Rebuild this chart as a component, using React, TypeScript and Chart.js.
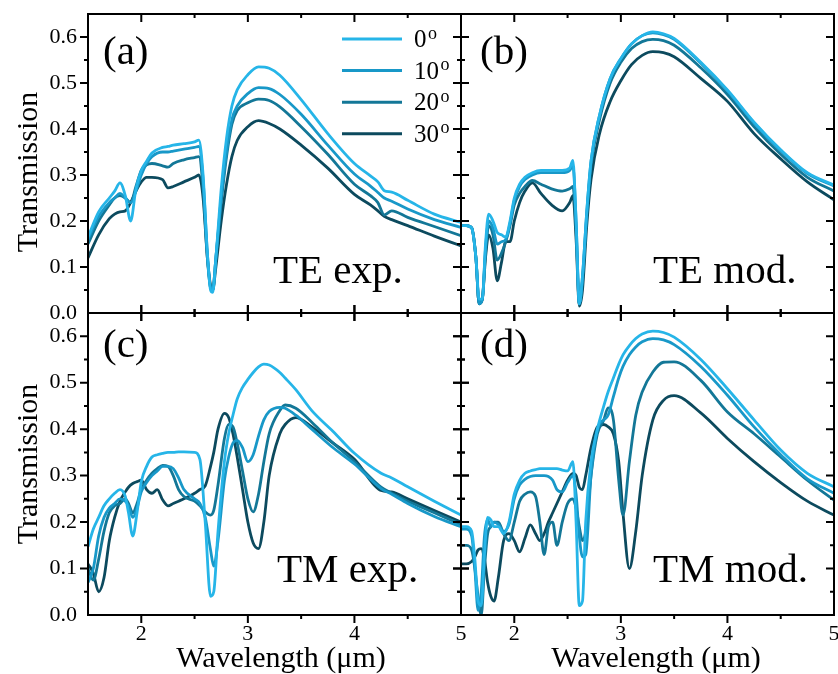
import React, { useEffect, useRef } from 'react';
import { Chart, registerables } from 'chart.js';

Chart.register(...registerables);

const SERIF = '"Liberation Serif", "Times New Roman", Times, serif';
const PAGE_W = 838;
const PAGE_H = 674;

const angles = ['0', '10', '20', '30'];
const lineColors = ['#26b5e8', '#1898c8', '#137797', '#0c4a5e'];

const xLabelTicks = [2, 3, 4, 5];
const xMajorTicks = [2, 3, 4];
const xMinorTicks = [2.5, 3.5, 4.5];
const yLabelTicks = [0, 0.1, 0.2, 0.3, 0.4, 0.5, 0.6];
const yMajorTicks = [0.1, 0.2, 0.3, 0.4, 0.5, 0.6];
const yMinorTicks = [0.05, 0.15, 0.25, 0.35, 0.45, 0.55];

// (a) TE experiment
const wlA = [1.5, 1.6, 1.7, 1.75, 1.8, 1.85, 1.9, 1.95, 2.0, 2.05, 2.1, 2.2, 2.25, 2.3, 2.4, 2.5, 2.54, 2.58, 2.62, 2.65, 2.67, 2.7, 2.75, 2.8, 2.85, 2.9, 3.0, 3.1, 3.2, 3.3, 3.5, 3.75, 4.0, 4.15, 4.22, 4.28, 4.35, 4.5, 4.75, 5.0];
const teExp0 = [0.165, 0.22, 0.25, 0.265, 0.283, 0.255, 0.2, 0.27, 0.31, 0.33, 0.348, 0.36, 0.362, 0.365, 0.368, 0.372, 0.376, 0.3, 0.13, 0.05, 0.045, 0.12, 0.27, 0.38, 0.45, 0.485, 0.518, 0.535, 0.532, 0.517, 0.464, 0.39, 0.325, 0.298, 0.285, 0.266, 0.263, 0.245, 0.215, 0.197];
const teExp10 = [0.16, 0.21, 0.24, 0.25, 0.26, 0.25, 0.24, 0.265, 0.3, 0.325, 0.34, 0.35, 0.35, 0.352, 0.356, 0.36, 0.362, 0.29, 0.13, 0.055, 0.05, 0.12, 0.25, 0.35, 0.42, 0.45, 0.477, 0.49, 0.488, 0.475, 0.432, 0.365, 0.302, 0.276, 0.262, 0.25, 0.243, 0.226, 0.203, 0.186];
const teExp20 = [0.15, 0.2, 0.235, 0.25, 0.255, 0.25, 0.24, 0.275, 0.31, 0.322, 0.325, 0.32, 0.317, 0.325, 0.333, 0.338, 0.34, 0.27, 0.12, 0.055, 0.05, 0.12, 0.24, 0.34, 0.41, 0.44, 0.457, 0.465, 0.462, 0.448, 0.405, 0.345, 0.28, 0.255, 0.24, 0.213, 0.222, 0.208, 0.188, 0.168];
const teExp30 = [0.12, 0.17, 0.205, 0.215, 0.22, 0.222, 0.24, 0.265, 0.285, 0.295, 0.295, 0.29, 0.272, 0.275, 0.285, 0.295, 0.3, 0.25, 0.12, 0.06, 0.05, 0.1, 0.2, 0.28, 0.34, 0.375, 0.405, 0.418, 0.412, 0.4, 0.365, 0.315, 0.258, 0.235, 0.222, 0.21, 0.203, 0.19, 0.167, 0.146];

// (b) TE model
const wlB = [1.5, 1.55, 1.6, 1.64, 1.67, 1.7, 1.73, 1.76, 1.8, 1.84, 1.88, 1.92, 1.96, 2.0, 2.05, 2.1, 2.17, 2.25, 2.35, 2.45, 2.52, 2.55, 2.58, 2.61, 2.64, 2.68, 2.72, 2.8, 2.9, 3.0, 3.1, 3.2, 3.3, 3.4, 3.5, 3.75, 4.0, 4.25, 4.5, 4.75, 5.0];
const teMod0 = [0.19, 0.19, 0.185, 0.12, 0.03, 0.03, 0.15, 0.215, 0.2, 0.175, 0.17, 0.165, 0.2, 0.25, 0.28, 0.295, 0.305, 0.31, 0.31, 0.31, 0.315, 0.332, 0.2, 0.02, 0.08, 0.22, 0.33, 0.43, 0.51, 0.553, 0.585, 0.603, 0.611, 0.607, 0.597, 0.545, 0.485, 0.415, 0.355, 0.305, 0.278];
const teMod10 = [0.19, 0.19, 0.185, 0.12, 0.02, 0.03, 0.14, 0.2, 0.185, 0.15, 0.155, 0.16, 0.195, 0.245, 0.275, 0.29, 0.3, 0.305, 0.305, 0.305, 0.31, 0.32, 0.2, 0.02, 0.08, 0.22, 0.33, 0.43, 0.51, 0.553, 0.585, 0.603, 0.609, 0.605, 0.595, 0.543, 0.483, 0.413, 0.353, 0.303, 0.276];
const teMod20 = [0.19, 0.19, 0.185, 0.12, 0.02, 0.03, 0.13, 0.19, 0.17, 0.115, 0.13, 0.155, 0.19, 0.235, 0.26, 0.275, 0.288, 0.28, 0.27, 0.265, 0.27, 0.275, 0.18, 0.02, 0.07, 0.21, 0.32, 0.42, 0.5, 0.545, 0.575, 0.59, 0.595, 0.592, 0.582, 0.533, 0.475, 0.405, 0.345, 0.295, 0.265];
const teMod30 = [0.19, 0.19, 0.185, 0.12, 0.02, 0.03, 0.12, 0.17, 0.14, 0.07, 0.11, 0.155, 0.155, 0.2, 0.24, 0.265, 0.283, 0.26, 0.235, 0.222, 0.24, 0.255, 0.16, 0.015, 0.05, 0.19, 0.29, 0.39, 0.46, 0.505, 0.54, 0.56, 0.568, 0.566, 0.557, 0.51, 0.46, 0.39, 0.335, 0.285, 0.246];

// (c) TM experiment
const wlC = [1.5, 1.55, 1.6, 1.65, 1.7, 1.75, 1.8, 1.85, 1.88, 1.92, 1.96, 2.0, 2.05, 2.1, 2.15, 2.2, 2.25, 2.3, 2.35, 2.4, 2.5, 2.55, 2.6, 2.65, 2.68, 2.72, 2.78, 2.82, 2.86, 2.9, 2.95, 3.0, 3.05, 3.1, 3.15, 3.2, 3.3, 3.35, 3.45, 3.6, 3.8, 4.0, 4.25, 4.35, 4.5, 4.75, 5.0];
const tmExp0 = [0.147, 0.185, 0.21, 0.235, 0.25, 0.262, 0.27, 0.255, 0.22, 0.17, 0.22, 0.287, 0.32, 0.34, 0.345, 0.348, 0.35, 0.35, 0.351, 0.351, 0.35, 0.335, 0.2, 0.04, 0.05, 0.18, 0.33, 0.39, 0.43, 0.465, 0.49, 0.507, 0.522, 0.534, 0.54, 0.538, 0.522, 0.51, 0.485, 0.44, 0.395, 0.348, 0.305, 0.295, 0.276, 0.245, 0.215];
const tmExp10 = [0.07, 0.1, 0.17, 0.21, 0.23, 0.24, 0.25, 0.245, 0.235, 0.21, 0.23, 0.265, 0.285, 0.3, 0.31, 0.32, 0.32, 0.315, 0.295, 0.27, 0.25, 0.24, 0.21, 0.14, 0.105, 0.16, 0.29, 0.34, 0.37, 0.376, 0.36, 0.33, 0.345, 0.385, 0.42, 0.438, 0.447, 0.445, 0.43, 0.4, 0.36, 0.325, 0.272, 0.26, 0.24, 0.212, 0.19];
const tmExp20 = [0.1, 0.075, 0.12, 0.18, 0.22, 0.235, 0.24, 0.25, 0.24, 0.22, 0.24, 0.27, 0.29, 0.305, 0.315, 0.322, 0.32, 0.3, 0.27, 0.255, 0.245, 0.235, 0.222, 0.215, 0.225, 0.28, 0.38, 0.41, 0.405, 0.37, 0.31, 0.25, 0.222, 0.26, 0.33, 0.39, 0.44, 0.452, 0.445, 0.415, 0.37, 0.33, 0.275, 0.262, 0.245, 0.22, 0.195];
const tmExp30 = [0.11, 0.09, 0.05, 0.08, 0.16, 0.21, 0.245, 0.265, 0.275, 0.283, 0.287, 0.29, 0.27, 0.262, 0.27, 0.248, 0.235, 0.24, 0.245, 0.25, 0.262, 0.27, 0.278, 0.32, 0.35, 0.4, 0.434, 0.425, 0.39, 0.34, 0.27, 0.2, 0.155, 0.143, 0.2, 0.3, 0.39, 0.41, 0.425, 0.405, 0.37, 0.335, 0.268, 0.265, 0.25, 0.225, 0.2];

// (d) TM model
const wlD = [1.5, 1.55, 1.6, 1.63, 1.66, 1.69, 1.72, 1.75, 1.78, 1.81, 1.85, 1.9, 1.95, 2.0, 2.05, 2.1, 2.15, 2.2, 2.24, 2.28, 2.32, 2.36, 2.4, 2.45, 2.5, 2.55, 2.58, 2.61, 2.64, 2.67, 2.72, 2.78, 2.84, 2.88, 2.93, 2.98, 3.02, 3.08, 3.14, 3.2, 3.3, 3.4, 3.5, 3.75, 4.0, 4.25, 4.5, 4.75, 5.0];
const tmMod0 = [0.19, 0.19, 0.18, 0.12, 0.03, 0.02, 0.13, 0.21, 0.205, 0.19, 0.19, 0.175, 0.2, 0.26, 0.29, 0.305, 0.31, 0.313, 0.315, 0.315, 0.315, 0.315, 0.315, 0.312, 0.31, 0.33, 0.2, 0.02, 0.03, 0.2, 0.33, 0.4, 0.45, 0.48, 0.51, 0.54, 0.56, 0.58, 0.595, 0.605, 0.611, 0.608, 0.598, 0.55, 0.487, 0.42, 0.355, 0.305, 0.276];
const tmMod10 = [0.185, 0.185, 0.17, 0.1, 0.01, 0.05, 0.17, 0.205, 0.19, 0.2, 0.195, 0.18, 0.195, 0.25, 0.28, 0.292, 0.298, 0.3, 0.3, 0.3, 0.298, 0.29, 0.27, 0.265, 0.285, 0.3, 0.26, 0.17, 0.125, 0.13, 0.3, 0.4, 0.42, 0.43, 0.47, 0.51, 0.535, 0.56, 0.577, 0.588, 0.595, 0.592, 0.582, 0.535, 0.473, 0.405, 0.345, 0.293, 0.262];
const tmMod20 = [0.15, 0.15, 0.14, 0.1, 0.04, 0.0, 0.1, 0.175, 0.19, 0.2, 0.2, 0.175, 0.16, 0.2, 0.245, 0.26, 0.265, 0.255, 0.2, 0.13, 0.19, 0.2, 0.15, 0.2, 0.24, 0.25, 0.23, 0.19, 0.16, 0.18, 0.3, 0.39, 0.42, 0.446, 0.42, 0.29, 0.215, 0.33, 0.43, 0.48, 0.523, 0.544, 0.545, 0.505, 0.437, 0.39, 0.34, 0.29, 0.247];
const tmMod30 = [0.11, 0.11, 0.115, 0.125, 0.14, 0.143, 0.12, 0.07, 0.04, 0.03, 0.08, 0.16, 0.175, 0.16, 0.136, 0.165, 0.194, 0.175, 0.16, 0.175, 0.2, 0.22, 0.24, 0.265, 0.29, 0.305, 0.3, 0.275, 0.27, 0.3, 0.36, 0.405, 0.41, 0.405, 0.39, 0.33, 0.22, 0.1, 0.18, 0.3, 0.42, 0.462, 0.472, 0.435, 0.38, 0.33, 0.285, 0.245, 0.215];

type Edge = 'in' | 'out' | 'cross';
interface Panel {
  key: string;
  wl: number[];
  series: number[][];
  area: { left: number; top: number; right: number; bottom: number };
  xLabels: boolean;
  yLabels: boolean;
  letter: string;
  letterAt: [number, number];
  tag: string;
  tagAt: [number, number];
  yTitleAt?: [number, number];
  xTitleAt?: [number, number];
  legend?: boolean;
  edges: { left: Edge; right: Edge; top: Edge; bottom: Edge };
}

const panels: Panel[] = [
  {
    key: 'a', wl: wlA, series: [teExp0, teExp10, teExp20, teExp30],
    area: { left: 88, top: 14, right: 461, bottom: 313 },
    xLabels: false, yLabels: true,
    letter: '(a)', letterAt: [103, 64], tag: 'TE exp.', tagAt: [273, 283],
    yTitleAt: [37, 172], legend: true,
    edges: { left: 'out', right: 'cross', top: 'in', bottom: 'cross' },
  },
  {
    key: 'b', wl: wlB, series: [teMod0, teMod10, teMod20, teMod30],
    area: { left: 461, top: 14, right: 834, bottom: 313 },
    xLabels: false, yLabels: false,
    letter: '(b)', letterAt: [480, 64], tag: 'TE mod.', tagAt: [653, 283],
    edges: { left: 'cross', right: 'in', top: 'in', bottom: 'cross' },
  },
  {
    key: 'c', wl: wlC, series: [tmExp0, tmExp10, tmExp20, tmExp30],
    area: { left: 88, top: 313, right: 461, bottom: 615 },
    xLabels: true, yLabels: true,
    letter: '(c)', letterAt: [103, 357], tag: 'TM exp.', tagAt: [277, 582],
    yTitleAt: [37, 464], xTitleAt: [281, 667],
    edges: { left: 'out', right: 'cross', top: 'cross', bottom: 'out' },
  },
  {
    key: 'd', wl: wlD, series: [tmMod0, tmMod10, tmMod20, tmMod30],
    area: { left: 461, top: 313, right: 834, bottom: 615 },
    xLabels: true, yLabels: false,
    letter: '(d)', letterAt: [480, 357], tag: 'TM mod.', tagAt: [653, 582],
    xTitleAt: [656, 667],
    edges: { left: 'cross', right: 'in', top: 'cross', bottom: 'out' },
  },
];

const MAJOR = 8;
const MINOR = 4;

function decorPlugin(p: Panel) {
  return {
    id: 'decor' + p.key,
    afterDraw(chart: any) {
      const ctx = chart.ctx as CanvasRenderingContext2D;
      const xs = chart.scales.x;
      const ys = chart.scales.y;
      const { left, right, top, bottom } = chart.chartArea;
      ctx.save();
      ctx.strokeStyle = '#000';
      ctx.lineWidth = 2;
      ctx.lineCap = 'butt';
      ctx.strokeRect(left, top, right - left, bottom - top);

      ctx.beginPath();
      const xt = (v: number, len: number) => {
        const px = xs.getPixelForValue(v);
        ctx.moveTo(px, p.edges.bottom === 'cross' ? bottom - len : bottom);
        ctx.lineTo(px, bottom + len);
        ctx.moveTo(px, p.edges.top === 'cross' ? top - len : top);
        ctx.lineTo(px, top + len);
      };
      const yt = (v: number, len: number) => {
        const py = ys.getPixelForValue(v);
        ctx.moveTo(left - len, py);
        ctx.lineTo(p.edges.left === 'cross' ? left + len : left, py);
        ctx.moveTo(right - len, py);
        ctx.lineTo(p.edges.right === 'cross' ? right + len : right, py);
      };
      xMajorTicks.forEach((v) => xt(v, MAJOR));
      xMinorTicks.forEach((v) => xt(v, MINOR));
      yMajorTicks.forEach((v) => yt(v, MAJOR));
      yMinorTicks.forEach((v) => yt(v, MINOR));
      ctx.stroke();

      ctx.fillStyle = '#000';
      ctx.textAlign = 'left';
      ctx.textBaseline = 'alphabetic';
      ctx.font = `41px ${SERIF}`;
      ctx.fillText(p.letter, p.letterAt[0], p.letterAt[1]);
      ctx.fillText(p.tag, p.tagAt[0], p.tagAt[1]);

      if (p.yTitleAt) {
        ctx.save();
        ctx.translate(p.yTitleAt[0], p.yTitleAt[1]);
        ctx.rotate(-Math.PI / 2);
        ctx.textAlign = 'center';
        ctx.font = `30px ${SERIF}`;
        ctx.fillText('Transmission', 0, 0);
        ctx.restore();
      }
      if (p.xTitleAt) {
        ctx.textAlign = 'center';
        ctx.font = `30px ${SERIF}`;
        ctx.fillText('Wavelength (\u03bcm)', p.xTitleAt[0], p.xTitleAt[1]);
      }

      if (p.legend) {
        angles.forEach((a, i) => {
          const y = 39 + i * 31.6;
          ctx.strokeStyle = lineColors[i];
          ctx.lineWidth = 3;
          ctx.beginPath();
          ctx.moveTo(342, y);
          ctx.lineTo(402, y);
          ctx.stroke();
          ctx.fillStyle = '#000';
          ctx.textAlign = 'left';
          ctx.font = `25px ${SERIF}`;
          ctx.fillText(a, 414, y + 8);
          const w = ctx.measureText(a).width;
          ctx.font = `18px ${SERIF}`;
          ctx.fillText('o', 414 + w + 1.5, y - 0.5);
        });
      }
      ctx.restore();
    },
  };
}

function PanelChart({ p }: { p: Panel }) {
  const ref = useRef<HTMLCanvasElement>(null);
  useEffect(() => {
    const canvas = ref.current;
    if (!canvas) return;
    const yWidth = p.yLabels ? p.area.left : 0;
    const xHeight = p.xLabels ? PAGE_H - p.area.bottom : 0;
    const padding = {
      left: p.area.left - yWidth,
      top: p.area.top,
      right: PAGE_W - p.area.right,
      bottom: PAGE_H - p.area.bottom - xHeight,
    };
    const chart = new Chart(canvas, {
      type: 'line',
      data: {
        datasets: p.series.map((vals, i) => ({
          label: angles[i] + '\u00b0',
          data: p.wl.map((x, j) => ({ x, y: vals[j] })),
          borderColor: lineColors[i],
          backgroundColor: lineColors[i],
          borderWidth: 2.8,
          pointRadius: 0,
          fill: false,
          cubicInterpolationMode: 'monotone',
        })),
      },
      options: {
        animation: false,
        responsive: false,
        devicePixelRatio: 1,
        events: [],
        layout: { padding },
        plugins: {
          legend: { display: false },
          tooltip: { enabled: false },
          title: { display: false },
        },
        scales: {
          x: {
            type: 'linear',
            position: 'bottom',
            min: 1.5,
            max: 5,
            afterBuildTicks: (s: any) => {
              s.ticks = xLabelTicks.map((v) => ({ value: v }));
            },
            afterFit: (s: any) => {
              s.height = xHeight;
              s.paddingLeft = 0;
              s.paddingRight = 0;
            },
            grid: { display: false, drawTicks: false },
            border: { display: false },
            ticks: {
              display: p.xLabels,
              autoSkip: false,
              maxRotation: 0,
              minRotation: 0,
              padding: 6,
              color: '#000',
              font: { family: SERIF, size: 22 },
              callback: (v: any) => String(v),
            },
          },
          y: {
            type: 'linear',
            position: 'left',
            min: 0,
            max: 0.65,
            afterBuildTicks: (s: any) => {
              s.ticks = yLabelTicks.map((v) => ({ value: v }));
            },
            afterFit: (s: any) => {
              s.width = yWidth;
              s.paddingTop = 0;
              s.paddingBottom = 0;
            },
            grid: { display: false, drawTicks: false },
            border: { display: false },
            ticks: {
              display: p.yLabels,
              autoSkip: false,
              padding: 11,
              color: '#000',
              font: { family: SERIF, size: 22 },
              callback: (v: any) => Number(v).toFixed(1),
            },
          },
        },
      } as any,
      plugins: [decorPlugin(p)],
    } as any);
    return () => chart.destroy();
  }, [p]);
  return (
    <canvas
      ref={ref}
      width={PAGE_W}
      height={PAGE_H}
      style={{ position: 'absolute', left: 0, top: 0, width: PAGE_W, height: PAGE_H, display: 'block' }}
    />
  );
}

export default function App() {
  return (
    <div style={{ position: 'fixed', left: 0, top: 0, width: PAGE_W, height: PAGE_H, background: '#fff', overflow: 'hidden' }}>
      {panels.map((p) => (
        <PanelChart key={p.key} p={p} />
      ))}
    </div>
  );
}
